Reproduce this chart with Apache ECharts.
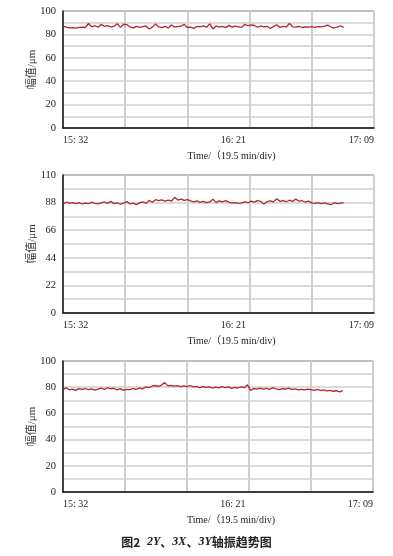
<!DOCTYPE html>
<html><head><meta charset="utf-8">
<script src="https://cdn.jsdelivr.net/npm/echarts@6/dist/echarts.min.js"></script>
<style>html,body{margin:0;padding:0;background:#fff}#c{width:393px;height:556px}</style>
</head><body><div id="c"></div>
<script>
// sample step (minutes) of the trend data
const stepMin = 1;
// x axis: 19.5 min/div, 5 divisions
const xMax = 97.5;
const xDiv = 19.5;
const timeTickMin = [0, 49, 97.5];
const timeLabels = ['15: 32', '16: 21', '17: 09'];

// 2Y amplitude (μm)
const amp2Y = [87.0,86.2,85.5,85.8,85.4,86.0,86.3,85.9,89.3,86.5,87.4,86.2,88.6,86.8,87.5,86.3,87.0,89.1,86.0,88.7,
88.4,86.4,85.6,86.8,86.1,86.7,87.2,84.6,86.2,89.0,86.4,85.8,86.9,85.5,88.0,86.2,86.6,87.0,88.6,85.9,
86.3,85.2,86.8,86.4,87.3,86.1,89.0,84.7,87.2,86.3,86.9,85.8,87.7,86.2,87.0,86.5,86.0,88.6,87.4,88.1,
87.6,86.1,87.3,86.4,86.9,85.1,86.7,88.2,86.0,86.8,86.3,89.4,86.5,86.2,86.9,85.9,86.4,86.2,86.6,86.0,
86.7,86.4,87.1,88.0,86.3,85.6,86.2,87.4,86.0];
// 3X amplitude (μm)
const amp3X = [87.0,88.3,87.5,87.9,87.2,88.0,86.9,87.6,87.1,88.4,87.3,87.0,87.8,88.5,87.4,89.0,87.2,87.9,86.7,87.5,
88.8,86.9,87.6,86.4,87.8,88.6,87.5,89.7,88.3,90.3,89.6,90.1,89.2,90.0,89.1,92.2,90.0,90.8,89.7,90.4,
89.3,88.6,89.4,88.2,88.9,87.9,88.5,90.6,88.2,89.3,88.6,89.5,88.4,87.6,87.9,87.3,87.8,88.5,87.9,89.2,
88.4,89.6,88.9,86.9,88.8,89.3,88.6,91.1,89.0,89.6,88.7,89.9,88.9,90.8,89.1,89.5,88.3,89.2,87.8,87.3,
88.0,87.2,87.7,87.0,86.3,87.9,87.1,87.6,87.9];
// 3Y amplitude (μm)
const amp3Y = [78.2,79.5,78.0,78.6,77.6,78.9,78.3,79.0,78.1,78.7,77.7,78.5,79.3,78.4,79.6,78.8,79.2,78.0,78.9,77.8,
78.4,78.1,79.0,78.3,79.4,78.7,80.2,79.6,80.8,81.3,80.7,81.6,83.5,81.0,81.4,80.8,81.2,80.5,81.0,80.4,
81.3,80.2,80.7,79.6,80.5,79.9,80.3,79.2,80.1,79.5,80.4,79.7,80.2,79.1,79.8,79.4,80.3,79.6,81.8,77.6,
79.0,78.5,79.2,78.6,79.1,78.4,79.6,78.8,78.2,79.0,78.5,79.3,78.3,78.7,78.0,78.4,77.9,78.6,78.2,77.5,
78.4,77.6,77.9,77.2,77.6,76.9,77.3,76.5,77.4];

const panels = [
  {data: amp2Y, yMax: 100, yStep: 20, top: 11, height: 117, width: 311},
  {data: amp3X, yMax: 110, yStep: 22, top: 175, height: 138, width: 311},
  {data: amp3Y, yMax: 100, yStep: 20, top: 361, height: 131, width: 310}
];

const serif = '"Liberation Serif","Times New Roman","Noto Sans CJK SC",serif';
const gridCol = '#cfcfcf';

const grids = [], xAxes = [], yAxes = [], series = [];
panels.forEach((p, k) => {
  grids.push({left: 63, top: p.top, width: p.width, height: p.height, show: true,
    borderColor: '#222', borderWidth: 1, backgroundColor: '#fff'});
  xAxes.push({
    gridIndex: k, type: 'value', min: 0, max: xMax, interval: xDiv,
    axisLine: {show: true, onZero: false, lineStyle: {color: '#111', width: 1.5}},
    axisTick: {show: false},
    splitLine: {show: true, lineStyle: {color: gridCol, width: 2}},
    axisLabel: {
      customValues: timeTickMin, margin: 7,
      alignMinLabel: 'left', alignMaxLabel: 'right',
      color: '#222', fontFamily: serif, fontSize: 10,
      formatter: v => {
        const i = timeTickMin.indexOf(v);
        if (i < 0) return '';
        return i === 1 ? '{m|' + timeLabels[i] + '}' : timeLabels[i];
      },
      rich: {m: {padding: [0, 0, 0, 28], color: '#222', fontFamily: serif, fontSize: 10}}
    },
    name: 'Time/（19.5 min/div)', nameLocation: 'middle', nameGap: 23, nameMoveOverlap: false,
    nameTextStyle: {color: '#222', fontFamily: serif, fontSize: 10, padding: [0, 0, 0, 26]}
  });
  yAxes.push({
    gridIndex: k, type: 'value', min: 0, max: p.yMax, interval: p.yStep,
    axisLine: {show: true, lineStyle: {color: '#111', width: 1.5}},
    axisTick: {show: false},
    axisLabel: {color: '#222', fontFamily: serif, fontSize: 10.5, margin: 7},
    splitLine: {show: true, lineStyle: {color: gridCol, width: 1.5}},
    minorTick: {show: false, splitNumber: 2},
    minorSplitLine: {show: true, lineStyle: {color: gridCol, width: 1.5}},
    name: '幅值/μm', nameLocation: 'middle', nameGap: 25, nameMoveOverlap: false,
    nameTextStyle: {color: '#333', fontFamily: serif, fontSize: 11}
  });
  series.push({
    type: 'line', xAxisIndex: k, yAxisIndex: k, showSymbol: false, silent: true,
    data: p.data.map((v, i) => [i * stepMin, v]),
    lineStyle: {color: '#b3262b', width: 1.3}, animation: false
  });
});

const chart = echarts.init(document.getElementById('c'), null, {renderer: 'canvas'});
chart.setOption({
  animation: false,
  grid: grids, xAxis: xAxes, yAxis: yAxes, series: series,
  graphic: [{
    type: 'text', left: 'center', top: 536,
    style: {
      text: '{a|图2}  {b|2Y}{a|、}{b|3X}{a|、}{b|3Y}{a|轴振趋势图}',
      rich: {
        a: {fontFamily: '"Noto Sans CJK SC",sans-serif', fontSize: 12, fontWeight: 'bold', fill: '#222'},
        b: {fontFamily: serif, fontSize: 12, fontWeight: 'bold', fontStyle: 'italic', fill: '#222'}
      }
    }
  }]
});
</script></body></html>
